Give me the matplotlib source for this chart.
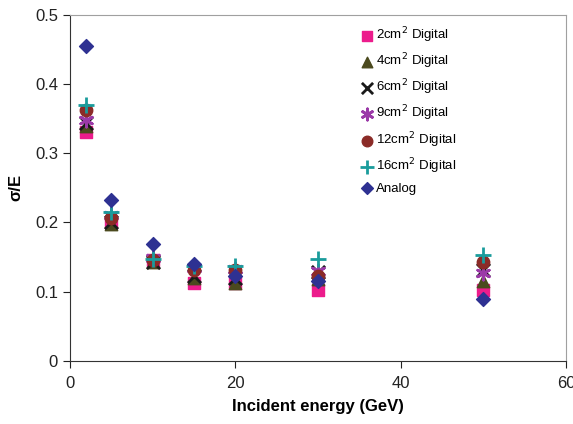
import matplotlib.pyplot as plt

plt.rcParams['font.family'] = ['Liberation Sans', 'DejaVu Sans']

# incident energy (GeV)
energy = [2, 5, 10, 15, 20, 30, 50]

# sigma/E for each pad size
d2 = [0.330, 0.200, 0.145, 0.113, 0.112, 0.103, 0.103]
d4 = [0.339, 0.198, 0.143, 0.120, 0.113, 0.118, 0.115]
d6 = [0.344, 0.201, 0.143, 0.122, 0.120, 0.129, 0.131]
d9 = [0.348, 0.211, 0.149, 0.134, 0.133, 0.130, 0.127]
d12 = [0.362, 0.206, 0.146, 0.131, 0.131, 0.122, 0.143]
d16 = [0.369, 0.215, 0.147, 0.137, 0.137, 0.147, 0.153]
analog = [0.455, 0.233, 0.169, 0.140, 0.122, 0.115, 0.090]

labels = ['2cm$^2$ Digital', '4cm$^2$ Digital', '6cm$^2$ Digital',
          '9cm$^2$ Digital', '12cm$^2$ Digital', '16cm$^2$ Digital', 'Analog']

fig = plt.figure(figsize=(5.73, 4.24), dpi=100)
ax = fig.add_axes([0.122, 0.149, 0.866, 0.816])

ax.scatter(energy, d2, marker='s', s=70, color='#EC1C8C', label=labels[0], zorder=3)
ax.scatter(energy, d4, marker='^', s=80, color='#4B4A1E', label=labels[1], zorder=3)
ax.scatter(energy, d6, marker='x', s=90, color='#1A1A1A', linewidths=2, label=labels[2], zorder=3)
ax.scatter(energy, d9, marker=(6, 2, 0), s=90, color='#9B3AA8', linewidths=2, label=labels[3], zorder=3)
ax.scatter(energy, d12, marker='o', s=80, color='#8B2B27', label=labels[4], zorder=3)
ax.scatter(energy, d16, marker='+', s=130, color='#1A9C9C', linewidths=2, label=labels[5], zorder=3)
ax.scatter(energy, analog, marker='D', s=50, color='#2E3192', label=labels[6], zorder=3)

ax.set_xlim(0, 60)
ax.set_ylim(0, 0.5)
ax.set_xticks([0, 20, 40, 60])
ax.set_yticks([0, 0.1, 0.2, 0.3, 0.4, 0.5])
ax.set_yticklabels(['0', '0.1', '0.2', '0.3', '0.4', '0.5'])
ax.tick_params(direction='out', length=5, labelsize=12, colors='#222222')
ax.tick_params(axis='x', pad=6)

for side in ['top', 'right']:
    ax.spines[side].set_color('#A0A0A0')
for side in ['left', 'bottom']:
    ax.spines[side].set_color('#333333')

ax.set_xlabel('Incident energy (GeV)', fontsize=12, fontweight='bold', labelpad=6)
ax.set_ylabel('σ/E', fontsize=12, fontweight='bold', labelpad=8)

ax.legend(loc='upper left', bbox_to_anchor=(0.573, 0.985), frameon=False,
          fontsize=9.5, handletextpad=0.05, labelspacing=0.5,
          borderaxespad=0, handlelength=1.2, markerscale=0.85)

fig.savefig('out.png', dpi=100)
